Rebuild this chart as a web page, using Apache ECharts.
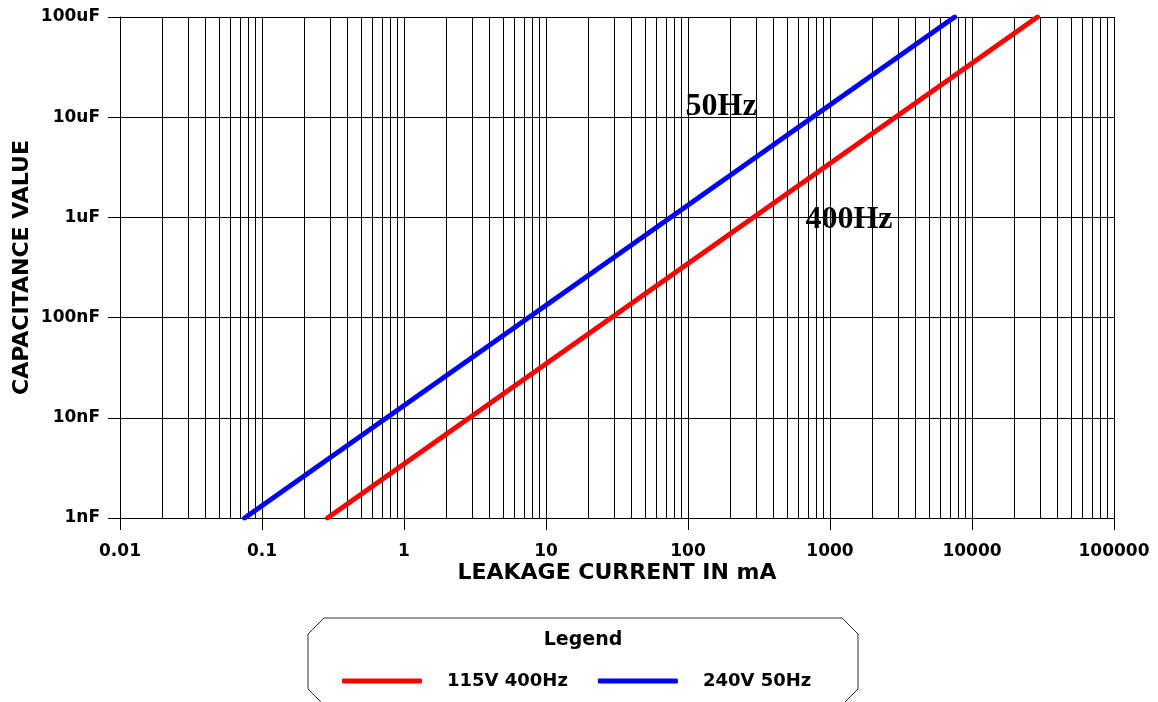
<!DOCTYPE html>
<html>
<head>
<meta charset="utf-8">
<style>
  html, body { margin: 0; padding: 0; background: #fff; }
  #main { width: 1158px; height: 702px; }
</style>
<script src="https://cdn.jsdelivr.net/npm/echarts@6/dist/echarts.min.js"></script>
</head>
<body>
<div id="main"></div>
<script>
// capacitance in nF, current in mA
const capacitanceNF = [1, 100000];
const current115V400Hz = [0.289, 28900];
const current240V50Hz = [0.0754, 7540];

const xTickLabels = ["0.01", "0.1", "1", "10", "100", "1000", "10000", "100000"];
const yTickLabels = ["1nF", "10nF", "100nF", "1uF", "10uF", "100uF"];

// minor grid multipliers inside each decade
const minorSteps = [2, 3, 4, 5, 6, 7, 8, 9];
const decades = [0.01, 0.1, 1, 10, 100, 1000, 10000];

const label50Hz = [171, 12600];
const label400Hz = [1361, 942];

const minorLines = [];
decades.forEach((d) => {
  minorSteps.forEach((m) => {
    minorLines.push({ xAxis: d * m });
  });
});

const font = "DejaVu Sans";

const myChart = echarts.init(document.getElementById("main"));
const option = {
  animation: false,
  backgroundColor: "#fff",
  grid: {
    left: 120,
    right: 44,
    top: 17,
    bottom: 184,
    containLabel: false,
  },
  legend: {
    left: 337,
    top: 667,
    itemWidth: 80,
    itemHeight: 5,
    itemGap: 30,
    icon: "roundRect",
    textStyle: {
      fontFamily: font,
      fontWeight: "bold",
      fontSize: 18,
      color: "#000",
      padding: [0, 0, 0, 20],
    },
    data: ["115V 400Hz", "240V 50Hz"],
  },
  graphic: [
    {
      type: "polygon",
      shape: {
        points: [
          [308, 634], [324, 618], [842, 618], [858, 634],
          [858, 689], [842, 705], [324, 705], [308, 689],
        ],
      },
      style: { fill: "#fff", stroke: "#333", lineWidth: 1 },
      z: -1,
    },
    {
      type: "text",
      style: {
        x: 583,
        y: 640,
        align: "center",
        verticalAlign: "middle",
        text: "Legend",
        font: "bold 19px " + font,
        fill: "#000",
      },
    },
  ],
  xAxis: {
    type: "log",
    logBase: 10,
    min: 0.01,
    max: 100000,
    splitNumber: 7,
    name: "LEAKAGE CURRENT IN mA",
    nameLocation: "middle",
    nameGap: 44,
    nameMoveOverlap: false,
    nameTextStyle: {
      fontFamily: font,
      fontWeight: "bold",
      fontSize: 22,
      color: "#000",
    },
    axisLine: { show: true, lineStyle: { color: "#000", width: 1 } },
    axisTick: { show: true, length: 12, lineStyle: { color: "#000" } },
    minorTick: { show: false },
    axisLabel: {
      margin: 25,
      fontFamily: font,
      fontWeight: "bold",
      fontSize: 17,
      color: "#000",
      formatter: (v) => xTickLabels[Math.round(Math.log10(v)) + 2],
    },
    splitLine: { show: true, lineStyle: { color: "#000", width: 1 } },
  },
  yAxis: {
    type: "log",
    logBase: 10,
    min: 1,
    max: 100000,
    splitNumber: 5,
    name: "CAPACITANCE VALUE",
    nameLocation: "middle",
    nameGap: 87,
    nameMoveOverlap: false,
    nameTextStyle: {
      fontFamily: font,
      fontWeight: "bold",
      fontSize: 22,
      color: "#000",
    },
    axisLine: { show: true, lineStyle: { color: "#000", width: 1 } },
    axisTick: { show: true, length: 12, lineStyle: { color: "#000" } },
    axisLabel: {
      margin: 20,
      fontFamily: font,
      fontWeight: "bold",
      fontSize: 17,
      color: "#000",
      formatter: (v) => yTickLabels[Math.round(Math.log10(v))],
    },
    splitLine: { show: true, lineStyle: { color: "#000", width: 1 } },
  },
  series: [
    {
      name: "115V 400Hz",
      type: "line",
      symbol: "none",
      z: 10,
      color: "#ff0000",
      lineStyle: { color: "#ff0000", width: 5, cap: "round" },
      data: current115V400Hz.map((c, i) => [c, capacitanceNF[i]]),
      markPoint: {
        symbol: "rect",
        symbolSize: 0,
        label: {
          show: true,
          position: "inside",
          formatter: "400Hz",
          fontFamily: "Liberation Serif",
          fontWeight: "bold",
          fontSize: 32,
          color: "#000",
        },
        data: [{ coord: label400Hz }],
      },
    },
    {
      name: "240V 50Hz",
      type: "line",
      symbol: "none",
      z: 10,
      color: "#0000ff",
      lineStyle: { color: "#0000ff", width: 5, cap: "round" },
      data: current240V50Hz.map((c, i) => [c, capacitanceNF[i]]),
      markPoint: {
        symbol: "rect",
        symbolSize: 0,
        label: {
          show: true,
          position: "inside",
          formatter: "50Hz",
          fontFamily: "Liberation Serif",
          fontWeight: "bold",
          fontSize: 32,
          color: "#000",
        },
        data: [{ coord: label50Hz }],
      },
    },
    {
      // minor vertical grid lines
      name: "minor",
      type: "line",
      data: [],
      markLine: {
        silent: true,
        symbol: ["none", "none"],
        z: 1,
        label: { show: false },
        lineStyle: { color: "#000", width: 1, type: "solid" },
        data: minorLines,
      },
    },
  ],
};
myChart.setOption(option);
</script>
</body>
</html>
